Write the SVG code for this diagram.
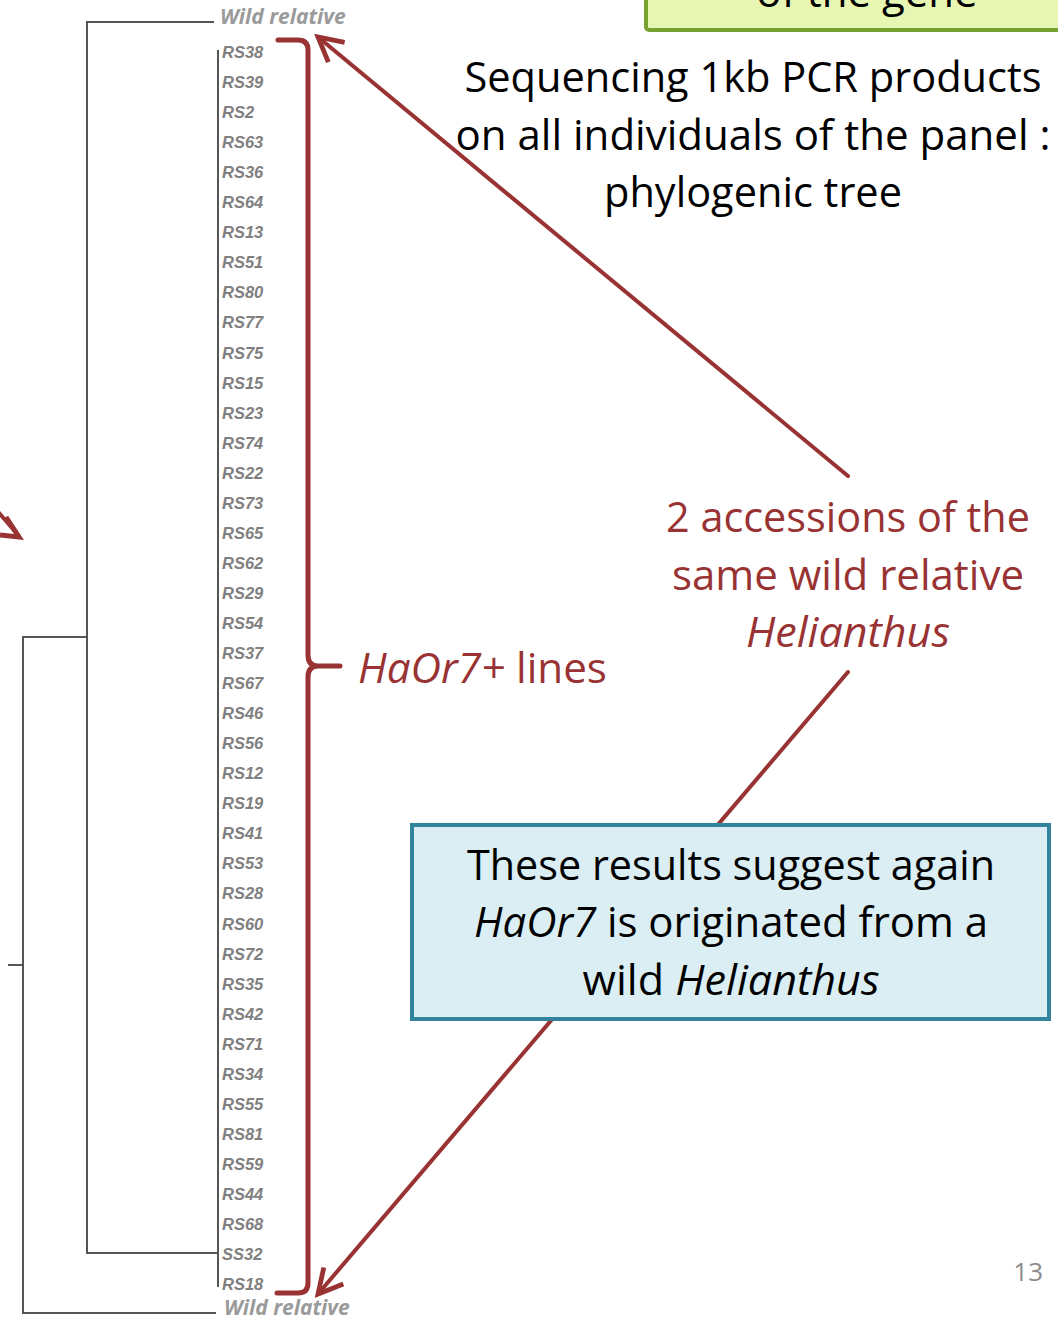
<svg xmlns="http://www.w3.org/2000/svg" width="1058" height="1318" viewBox="0 0 1058 1318">
<style>
.tree{stroke:#555;stroke-width:2;fill:none}
.lab{font-family:"Liberation Sans",Arial,sans-serif;font-size:16.5px;font-style:italic;font-weight:bold;fill:#808080}
.wild{font-family:"Open Sans","Liberation Sans",sans-serif;font-size:21px;font-style:italic;font-weight:bold;fill:#9a9a9a}
.red{stroke:#993333;stroke-width:4;fill:none;stroke-linecap:round}
.big{font-family:"Open Sans","Liberation Sans",sans-serif;font-size:42px;fill:#000}
.rt{font-family:"Open Sans","Liberation Sans",sans-serif;font-size:42px;fill:#993333}
.it{font-style:italic}
</style>
<defs>
<marker id="ah" viewBox="0 0 20 20" refX="17" refY="10" markerWidth="8" markerHeight="8" markerUnits="strokeWidth" orient="auto-start-reverse">
<path d="M2,2 L17,10 L2,18" fill="none" stroke="#993333" stroke-width="3" stroke-linejoin="miter"/>
</marker>
</defs>
<rect width="1058" height="1318" fill="#fff"/>

<g id="green-box">
<rect x="646" y="-60" width="430" height="90" rx="3" fill="#E8F6B3" stroke="#77A22F" stroke-width="4"/>
<text class="big" x="867" y="7" text-anchor="middle">of the gene</text>
</g>

<g id="tree">
<path class="tree" d="M214,22 H87 V1253 H218"/>
<path class="tree" d="M87,637 H23 V1313 H216"/>
<path class="tree" d="M8,965 H23"/>
<path class="tree" d="M218,50 V1287"/>
</g>

<g id="wild-top"><text class="wild" x="220" y="24">Wild relative</text></g>
<g id="wild-bottom"><text class="wild" x="224" y="1315">Wild relative</text></g>

<g id="leaves">
<text class="lab" x="222" y="58">RS38</text>
<text class="lab" x="222" y="88">RS39</text>
<text class="lab" x="222" y="118">RS2</text>
<text class="lab" x="222" y="148">RS63</text>
<text class="lab" x="222" y="178">RS36</text>
<text class="lab" x="222" y="208">RS64</text>
<text class="lab" x="222" y="238">RS13</text>
<text class="lab" x="222" y="268">RS51</text>
<text class="lab" x="222" y="298">RS80</text>
<text class="lab" x="222" y="328">RS77</text>
<text class="lab" x="222" y="359">RS75</text>
<text class="lab" x="222" y="389">RS15</text>
<text class="lab" x="222" y="419">RS23</text>
<text class="lab" x="222" y="449">RS74</text>
<text class="lab" x="222" y="479">RS22</text>
<text class="lab" x="222" y="509">RS73</text>
<text class="lab" x="222" y="539">RS65</text>
<text class="lab" x="222" y="569">RS62</text>
<text class="lab" x="222" y="599">RS29</text>
<text class="lab" x="222" y="629">RS54</text>
<text class="lab" x="222" y="659">RS37</text>
<text class="lab" x="222" y="689">RS67</text>
<text class="lab" x="222" y="719">RS46</text>
<text class="lab" x="222" y="749">RS56</text>
<text class="lab" x="222" y="779">RS12</text>
<text class="lab" x="222" y="809">RS19</text>
<text class="lab" x="222" y="839">RS41</text>
<text class="lab" x="222" y="869">RS53</text>
<text class="lab" x="222" y="899">RS28</text>
<text class="lab" x="222" y="930">RS60</text>
<text class="lab" x="222" y="960">RS72</text>
<text class="lab" x="222" y="990">RS35</text>
<text class="lab" x="222" y="1020">RS42</text>
<text class="lab" x="222" y="1050">RS71</text>
<text class="lab" x="222" y="1080">RS34</text>
<text class="lab" x="222" y="1110">RS55</text>
<text class="lab" x="222" y="1140">RS81</text>
<text class="lab" x="222" y="1170">RS59</text>
<text class="lab" x="222" y="1200">RS44</text>
<text class="lab" x="222" y="1230">RS68</text>
<text class="lab" x="222" y="1260">SS32</text>
<text class="lab" x="222" y="1290">RS18</text>
</g>

<g id="bracket">
<path d="M278,40 H298 Q308,40 308,50 V655 Q308,666 318,666 H340 M318,666 Q308,666 308,677 V1283 Q308,1293 298,1293 H277" fill="none" stroke="#993333" stroke-width="5" stroke-linecap="round"/>
</g>

<g id="connectors">
<line class="red" x1="848" y1="476" x2="318" y2="37" marker-end="url(#ah)"/>
<line class="red" x1="848" y1="672" x2="318" y2="1294" marker-end="url(#ah)"/>
<path class="red" d="M-12,500 L18,535"/>
<path d="M0,535 L19,537 L6,517" fill="none" stroke="#993333" stroke-width="5"/>
</g>

<g id="seq-text">
<text class="big" x="753" y="92" text-anchor="middle" textLength="577" lengthAdjust="spacingAndGlyphs">Sequencing 1kb PCR products</text>
<text class="big" x="753" y="150" text-anchor="middle" textLength="595" lengthAdjust="spacingAndGlyphs">on all individuals of the panel :</text>
<text class="big" x="753" y="207" text-anchor="middle" textLength="298" lengthAdjust="spacingAndGlyphs">phylogenic tree</text>
</g>

<g id="accessions-text">
<text class="rt" x="848" y="532" text-anchor="middle" textLength="364" lengthAdjust="spacingAndGlyphs">2 accessions of the</text>
<text class="rt" x="848" y="590" text-anchor="middle" textLength="352" lengthAdjust="spacingAndGlyphs">same wild relative</text>
<text class="rt it" x="848" y="647" text-anchor="middle" textLength="204" lengthAdjust="spacingAndGlyphs">Helianthus</text>
</g>

<g id="haor7-label">
<text class="rt" x="358" y="683" textLength="249" lengthAdjust="spacingAndGlyphs"><tspan class="it">HaOr7+</tspan> lines</text>
</g>

<g id="blue-box">
<rect x="412" y="825" width="637" height="194" fill="#DAEEF3" stroke="#31849B" stroke-width="4"/>
<text class="big" x="731" y="880" text-anchor="middle" textLength="528" lengthAdjust="spacingAndGlyphs">These results suggest again</text>
<text class="big" x="731" y="937" text-anchor="middle" textLength="514" lengthAdjust="spacingAndGlyphs"><tspan class="it">HaOr7</tspan> is originated from a</text>
<text class="big" x="731" y="995" text-anchor="middle" textLength="297" lengthAdjust="spacingAndGlyphs">wild <tspan class="it">Helianthus</tspan></text>
</g>

<g id="page-number">
<text x="1043" y="1281" text-anchor="end" font-family="Open Sans, Liberation Sans, sans-serif" font-size="26" fill="#8c8c8c">13</text>
</g>
</svg>
